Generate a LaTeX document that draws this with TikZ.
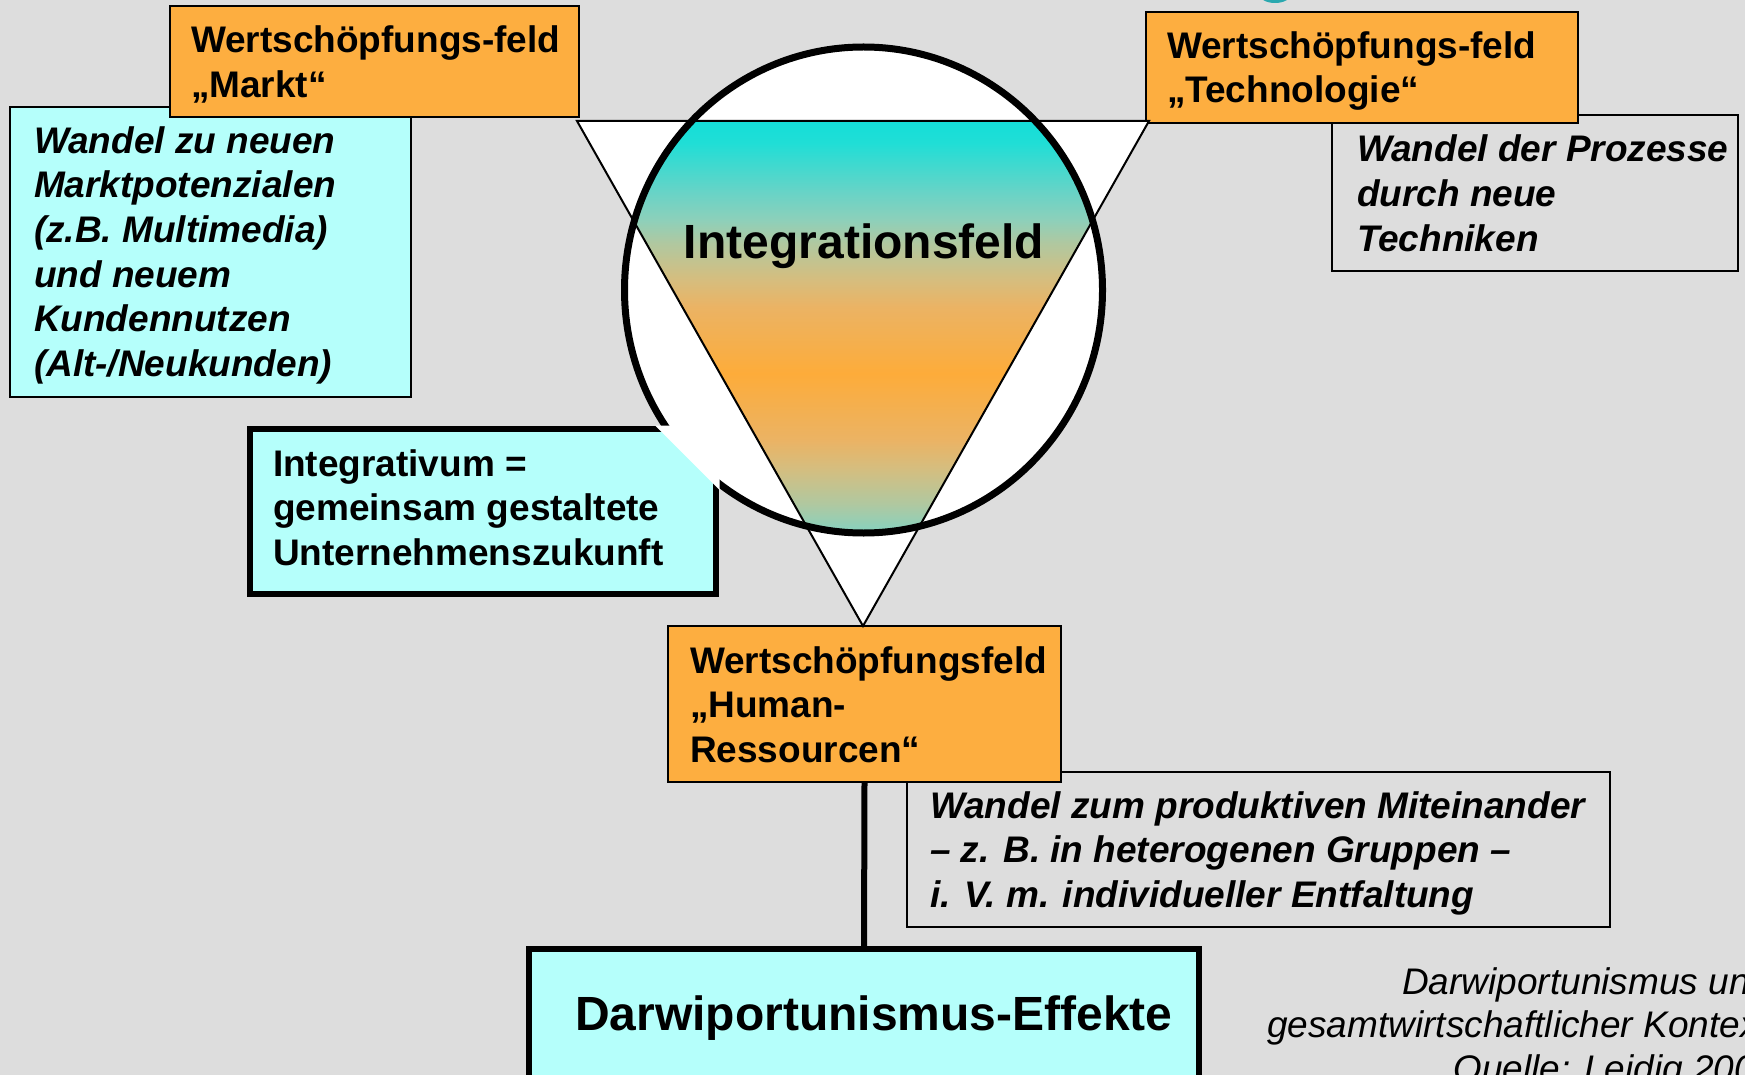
\documentclass[tikz,border=0pt]{standalone}
\usepackage{fontspec}
\setmainfont{Liberation Sans}
\definecolor{bg}{RGB}{221,221,221}
\definecolor{orng}{RGB}{253,174,64}
\definecolor{lcyan}{RGB}{181,255,251}
\definecolor{gcyan}{RGB}{20,222,216}
\definecolor{gorng}{RGB}{253,172,58}
\definecolor{gA}{RGB}{32,222,214}
\definecolor{gB}{RGB}{106,211,198}
\definecolor{gC}{RGB}{141,208,186}
\definecolor{gD}{RGB}{176,200,160}
\definecolor{gE}{RGB}{212,190,128}
\definecolor{gF}{RGB}{235,179,100}
\definecolor{tealfrag}{RGB}{42,168,175}
% cyan - orange - cyan blend of the integration field
\pgfdeclareverticalshading{intgrad}{100bp}{%
  color(0bp)=(gcyan); color(25bp)=(gcyan); color(27.2bp)=(gA);
  color(32.2bp)=(gB); color(34.8bp)=(gC); color(37.1bp)=(gD);
  color(40.5bp)=(gE); color(43.4bp)=(gF); color(50bp)=(gorng);
  color(56.6bp)=(gF); color(59.5bp)=(gE); color(62.9bp)=(gD);
  color(65.2bp)=(gC); color(67.8bp)=(gB); color(72.8bp)=(gA);
  color(75bp)=(gcyan); color(100bp)=(gcyan)}
\newcommand\fst{\rule{0pt}{31pt}}
\tikzset{
  box/.style={draw=black, line width=2pt, rectangle, inner sep=0pt, outer sep=0pt, anchor=north west},
  heavybox/.style={box, line width=6pt},
  txt/.style={inner sep=0pt, outer sep=0pt, anchor=north west, align=left, text=black},
  fb/.style={font=\fontsize{37}{44.7}\selectfont\bfseries},
  fbi/.style={font=\fontsize{37}{44.7}\selectfont\bfseries\itshape},
  fsrc/.style={font=\fontsize{37}{43}\selectfont\itshape, inner sep=0pt, anchor=base west},
  fbig/.style={font=\fontsize{48}{56}\selectfont\bfseries, inner sep=0pt},
}
\begin{document}
\begin{tikzpicture}[x=1pt,y=-1pt]
\useasboundingbox (0,0) rectangle (1745,1075);
\fill[bg] (0,0) rectangle (1745,1075);
% lower edge of a heading glyph above the frame
\fill[tealfrag] (1275,-6) ellipse [x radius=16pt, y radius=9pt];

% value field "Markt"
\node[box, fill=lcyan, minimum width=401, minimum height=290] (mC) at (10,107) {};
\node[box, fill=orng, minimum width=409, minimum height=111] (mO) at (170,6) {};
\node[txt, fb] (mOt) at (191,21.7) {\fst Wertschöpfungs-feld\\„Markt“};
\node[txt, fbi] (mCt) at (34,122) {\fst Wandel zu neuen\\Marktpotenzialen\\(z.B. Multimedia)\\und neuem\\Kundennutzen\\(Alt-/Neukunden)};

% value field "Technologie"
\node[box, fill=bg, minimum width=406, minimum height=156] (tG) at (1332,115) {};
\node[box, fill=orng, minimum width=432, minimum height=111] (tO) at (1146,12) {};
\node[txt, fb] (tOt) at (1167,27.3) {\fst Wertschöpfungs-feld\\„Technologie“};
\node[txt, fbi] (tGt) at (1357,130.7) {\fst Wandel der Prozesse\\durch neue\\Techniken};

% value field "Human-Ressourcen"
\node[box, fill=bg, minimum width=703, minimum height=155] (hG) at (907,772) {};
\node[box, fill=orng, minimum width=393, minimum height=156] (hO) at (668,626) {};
\node[txt, fb] (hOt) at (690,642) {\fst Wertschöpfungsfeld\\„Human-\\Ressourcen“};
\node[txt, fbi] (hGt) at (930,787) {\fst Wandel zum produktiven Miteinander\\– z. B. in heterogenen Gruppen –\\i. V. m. individueller Entfaltung};

% integration circle and triangle
\coordinate (cc) at (863.5,290);
\coordinate (tA) at (577,121);
\coordinate (tB) at (1149,121);
\coordinate (tC) at (863,626);
\fill[white] (cc) ellipse [x radius=239pt, y radius=243pt];
\fill[white] (tA) -- (tB) -- (tC) -- cycle;
\begin{scope}
  \clip (cc) ellipse [x radius=239pt, y radius=243pt];
  \shade[shading=intgrad] (tA) -- (tB) -- (tC) -- cycle;
\end{scope}
\draw[line width=2pt, line join=miter] (tA) -- (tB) -- (tC) -- cycle;
\draw[line width=7pt] (cc) ellipse [x radius=239pt, y radius=243pt];
\node[fbig, anchor=base] (iF) at (864,259) {Integrationsfeld};

% Integrativum box, its corner opened towards the circle
\node[heavybox, fill=lcyan, minimum width=466, minimum height=165] (iB) at (250,429) {};
\fill[white] (655,425.5) -- (719.5,425.5) -- (719.5,490) -- cycle;
\node[txt, fb] (iT) at (273,445) {\fst Integrativum =\\gemeinsam gestaltete\\Unternehmenszukunft};

% effects box and its link
\node[heavybox, fill=lcyan, minimum width=670, minimum height=160] (dB) at (529,949) {};
\node[fbig, anchor=base west] (dT) at (575,1030) {Darwiportunismus-Effekte};
\draw[line width=6pt] (hO.south) -- (dB.north);

% source note
\node[fsrc] (s1) at (1402,994) {Darwiportunismus und};
\node[fsrc] (s2) at (1267,1037) {gesamtwirtschaftlicher Kontext};
\node[fsrc] (s3) at (1453,1081) {Quelle: Leidig 200};
\end{tikzpicture}
\end{document}
